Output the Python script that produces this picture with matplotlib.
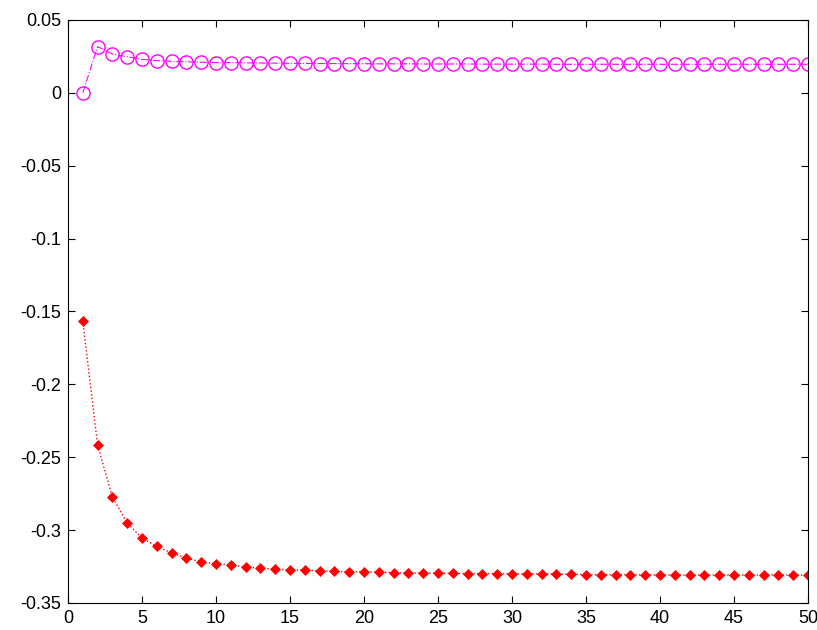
import matplotlib
matplotlib.use("Agg")
import matplotlib.pyplot as plt
import numpy as np

# iteration index
n = np.arange(1, 51)

# upper series (magenta circles)
upper = [0.0, 0.0317, 0.0266, 0.0248, 0.0230, 0.0221, 0.0216, 0.0213, 0.0210, 0.0208,
         0.0207, 0.0206, 0.0205, 0.0204, 0.0203, 0.0202, 0.0201, 0.0201, 0.0200, 0.0200,
         0.0199, 0.0199, 0.0199, 0.0198, 0.0198, 0.0198, 0.0198, 0.0197, 0.0197, 0.0197,
         0.0197, 0.0197, 0.0196, 0.0196, 0.0196, 0.0196, 0.0196, 0.0196, 0.0196, 0.0196,
         0.0196, 0.0196, 0.0196, 0.0196, 0.0196, 0.0196, 0.0196, 0.0196, 0.0196, 0.0196]

# lower series (red points)
lower = [-0.1565, -0.2416, -0.2773, -0.2951, -0.3054, -0.3112, -0.3157, -0.3191, -0.3219, -0.3230,
         -0.3240, -0.3253, -0.3262, -0.3268, -0.3273, -0.3275, -0.3279, -0.3284, -0.3285, -0.3286,
         -0.3288, -0.3292, -0.3294, -0.3295, -0.3296, -0.3297, -0.3298, -0.3298, -0.3299, -0.3300,
         -0.3300, -0.3301, -0.3302, -0.3303, -0.3305, -0.3306, -0.3306, -0.3307, -0.3307, -0.3307,
         -0.3308, -0.3308, -0.3308, -0.3308, -0.3308, -0.3308, -0.3308, -0.3308, -0.3308, -0.3308]

xticks = np.arange(0, 51, 5)
yticks = np.round(np.arange(-0.35, 0.051, 0.05), 2)
ylabels = ["-0.35", "-0.3", "-0.25", "-0.2", "-0.15", "-0.1", "-0.05", "0", "0.05"]

plt.rcParams['font.family'] = ['Liberation Sans', 'DejaVu Sans']

fig = plt.figure(figsize=(8.17, 6.3), dpi=100)
ax = fig.add_axes([0.0832, 0.0429, 0.9058, 0.9254])

ax.plot(n, upper, color='#ff00ff', linestyle='-.', linewidth=0.8,
        marker='o', markersize=9.5, markerfacecolor='none', markeredgewidth=1.0)
ax.plot(n, lower, color='#ff0000', linestyle=':', linewidth=1.0,
        marker='D', markersize=5, markerfacecolor='#ff0000', markeredgewidth=0.5)

ax.set_xlim(0, 50)
ax.set_ylim(-0.35, 0.05)
ax.set_xticks(xticks)
ax.set_yticks(yticks)
ax.set_yticklabels(ylabels)
ax.tick_params(direction='in', top=True, right=True, length=5, width=0.8,
               labelsize=13, pad=5)
for s in ax.spines.values():
    s.set_linewidth(0.8)

fig.savefig("out.png", dpi=100)
